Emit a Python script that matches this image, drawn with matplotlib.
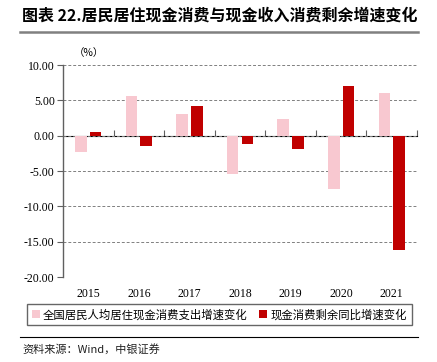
import matplotlib
matplotlib.use("Agg")
import matplotlib.pyplot as plt
import numpy as np
from matplotlib.lines import Line2D

plt.rcParams['font.family'] = ['Liberation Serif', 'Noto Sans CJK SC', 'DejaVu Sans']

years = ['2015', '2016', '2017', '2018', '2019', '2020', '2021']
housing_spend = [-2.3, 5.6, 3.1, -5.4, 2.4, -7.6, 6.0]
cash_surplus = [0.5, -1.4, 4.2, -1.2, -1.9, 7.0, -16.2]
series_names = ['全国居民人均居住现金消费支出增速变化', '现金消费剩余同比增速变化']
yticks = [10, 5, 0, -5, -10, -15, -20]

W, H = 437, 362
fig = plt.figure(figsize=(W / 100, H / 100), dpi=100)
ax = fig.add_axes([63 / W, 1 - 277 / H, (417 - 63) / W, (277 - 65) / H])

x = np.arange(len(years))
bw = 0.23
off = 0.145
pink = '#F8C8D0'
red = '#C00000'
ax.bar(x - off, housing_spend, bw, color=pink, label=series_names[0], zorder=3)
ax.bar(x + off, cash_surplus, bw, color=red, label=series_names[1], zorder=3)

ax.set_xlim(-0.5, len(years) - 0.5)
ax.set_ylim(-20, 10)
ax.set_yticks(yticks)
ax.set_yticklabels([f'{v:.2f}' for v in yticks], fontsize=8.5)
ax.yaxis.grid(True, linestyle=(0, (3, 2)), color='#808080', linewidth=0.7, zorder=0)
ax.set_xticks(x)
ax.set_xticklabels(years, fontsize=8.5)
ax.tick_params(axis='x', length=0, pad=8)
ax.tick_params(axis='y', length=4, color='#606060', width=0.8, pad=2)
for s in ['top', 'right', 'bottom']:
    ax.spines[s].set_visible(False)
ax.spines['left'].set_color('#606060')
ax.spines['left'].set_linewidth(1.0)

sec = ax.secondary_xaxis(2 / 3)
sec.set_xticks(np.arange(len(years)) + 0.5)
sec.set_xticklabels([])
sec.tick_params(axis='x', length=4, color='#606060', width=0.8, direction='out')
sec.spines['bottom'].set_color('#606060')
sec.spines['bottom'].set_linewidth(1.0)
sec.spines['bottom'].set_zorder(4)

ax.text(0.03, 1.035, '（%）', transform=ax.transAxes, fontsize=7.5,
        family=['Noto Sans CJK SC'], ha='left', va='bottom')

fig.text(22 / W, 1 - 16 / H, '图表 22.居民居住现金消费与现金收入消费剩余增速变化',
         fontsize=11.5, fontweight='bold', family=['Noto Sans CJK SC'],
         ha='left', va='center')
fig.add_artist(Line2D([20 / W, 418 / W], [1 - 32 / H, 1 - 32 / H],
                      color='#808080', linewidth=1.8, transform=fig.transFigure))

leg = fig.legend(loc='center', bbox_to_anchor=(219.5 / W, 1 - 314.5 / H), ncol=2,
                 prop={'family': 'Noto Sans CJK SC', 'size': 8.2},
                 frameon=True, fancybox=False, edgecolor='#404040',
                 handlelength=0.7, handleheight=0.7, handletextpad=0.3,
                 columnspacing=1.0, borderpad=0.45)
leg.get_frame().set_linewidth(1.0)

fig.add_artist(Line2D([20 / W, 418 / W], [1 - 337 / H, 1 - 337 / H],
                      color='black', linewidth=0.8, transform=fig.transFigure))
fig.text(22 / W, 1 - 349 / H, '资料来源：Wind，中银证券', fontsize=8,
         family=['Noto Sans CJK SC'], ha='left', va='center', color='#202020')

fig.savefig('out.png', dpi=100)
